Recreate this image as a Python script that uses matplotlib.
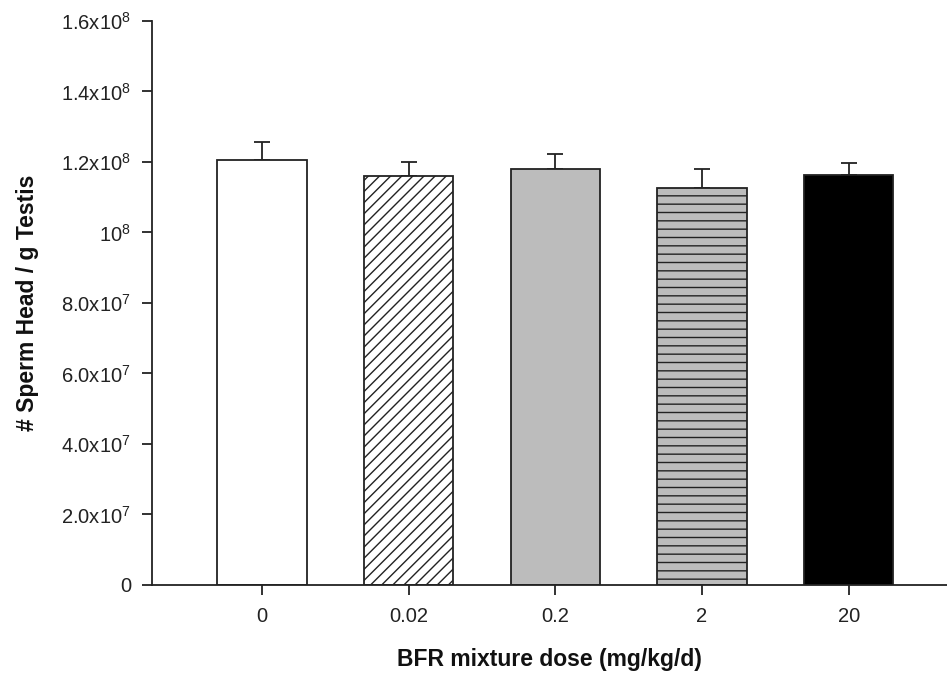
import matplotlib
matplotlib.use("Agg")
import matplotlib.pyplot as plt
import numpy as np

categories = ["0", "0.02", "0.2", "2", "20"]
means = [1.206e8, 1.160e8, 1.181e8, 1.125e8, 1.163e8]
errors = [0.050e8, 0.041e8, 0.041e8, 0.056e8, 0.033e8]
ytick_vals = [0, 2e7, 4e7, 6e7, 8e7, 1e8, 1.2e8, 1.4e8, 1.6e8]
ytick_labels = ["0", "2.0x10$^{7}$", "4.0x10$^{7}$", "6.0x10$^{7}$", "8.0x10$^{7}$",
                "10$^{8}$", "1.2x10$^{8}$", "1.4x10$^{8}$", "1.6x10$^{8}$"]

facecolors = ["white", "white", "#bcbcbc", "#bcbcbc", "black"]
hatches = [None, "///", None, "--", None]

plt.rcParams["font.family"] = ["Liberation Sans", "DejaVu Sans"]
plt.rcParams["mathtext.fontset"] = "custom"
plt.rcParams["mathtext.rm"] = "Liberation Sans"
plt.rcParams["mathtext.default"] = "rm"
plt.rcParams["hatch.linewidth"] = 1.0

fig = plt.figure(figsize=(9.47, 6.85), dpi=100)
ax = fig.add_axes([0.1605, 0.146, 0.8395, 0.8234])

x = np.arange(len(categories))
for i in range(len(categories)):
    ax.bar(x[i], means[i], width=0.61, color=facecolors[i], edgecolor="#222222",
           linewidth=1.3, hatch=hatches[i], zorder=2)
ax.errorbar(x, means, yerr=[np.zeros(len(errors)), errors], fmt="none",
            ecolor="#222222", elinewidth=1.3, capsize=6, capthick=1.3, zorder=1)

ax.set_xlim(-0.75, 4.67)
ax.set_ylim(0, 1.6e8)
ax.set_xticks(x)
ax.set_xticklabels(categories, fontsize=14.5, color="#222222")
ax.set_yticks(ytick_vals)
ax.set_yticklabels(ytick_labels, fontsize=14.5, color="#222222")
ax.tick_params(axis="both", direction="out", length=7, width=1.3, color="#222222", pad=8)
ax.tick_params(axis="x", pad=9)

for s in ["top", "right"]:
    ax.spines[s].set_visible(False)
for s in ["left", "bottom"]:
    ax.spines[s].set_linewidth(1.3)
    ax.spines[s].set_color("#222222")

ax.set_xlabel("BFR mixture dose (mg/kg/d)", fontsize=16.5, fontweight="bold",
              color="#111111", labelpad=16)
ax.set_ylabel("# Sperm Head / g Testis", fontsize=16.5, fontweight="bold",
              color="#111111", labelpad=16)

fig.savefig("out.png", dpi=100)
